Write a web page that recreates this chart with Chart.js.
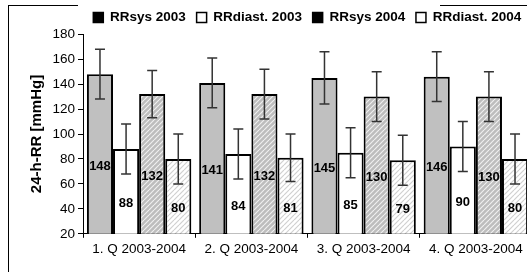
<!DOCTYPE html>
<html>
<head>
<meta charset="utf-8">
<script src="https://cdn.jsdelivr.net/npm/chart.js@4"></script>
<style>
  html, body { margin: 0; padding: 0; background: #fff; overflow: hidden; width: 527px; height: 272px; }
  #frame { position: absolute; left: 8px; top: 5px; width: 700px; height: 400px; border: 1px solid #000; }
  #gap { position: absolute; left: 78px; top: 4px; width: 362px; height: 4px; background: #fff; }
  #wrap { position: absolute; left: 9px; top: 0; width: 570px; height: 272px; }
</style>
</head>
<body>
<div id="frame"></div>
<div id="gap"></div>
<div id="wrap"><canvas id="grafico"></canvas></div>
<script>
// Dados
const quartale = ["1. Q 2003-2004", "2. Q 2003-2004", "3. Q 2003-2004", "4. Q 2003-2004"];
const rrSys2003 = [148, 141, 145, 146];
const rrDiast2003 = [88, 84, 85, 90];
const rrSys2004 = [132, 132, 130, 130];
const rrDiast2004 = [80, 81, 79, 80];
// Standardabweichung (Fehlerbalken)
const sdSys2003 = [20, 20, 21, 20];
const sdDiast2003 = [20, 20, 20, 20];
const sdSys2004 = [19, 20, 20, 20];
const sdDiast2004 = [20, 19, 20, 20];
const yTicks = [20, 40, 60, 80, 100, 120, 140, 160, 180];

const fonte = "Arial, 'Liberation Sans', sans-serif";
Chart.defaults.font.family = fonte;
Chart.defaults.color = "#000";

// Schraffur-Muster
function hatch(bg, fg, size, lw) {
  const c = document.createElement("canvas");
  c.width = size; c.height = size;
  const g = c.getContext("2d");
  g.fillStyle = bg;
  g.fillRect(0, 0, size, size);
  g.strokeStyle = fg;
  g.lineWidth = lw;
  for (let k = -1; k <= 1; k++) {
    g.beginPath();
    g.moveTo(k * size, size);
    g.lineTo(k * size + size, 0);
    g.stroke();
  }
  return g.createPattern(c, "repeat");
}

const ctx = document.getElementById("grafico").getContext("2d");

const fehler = [sdSys2003, sdDiast2003, sdSys2004, sdDiast2004];

// Fehlerbalken + Werte
const extras = {
  id: "extras",
  afterDatasetsDraw(chart) {
    const g = chart.ctx;
    const y = chart.scales.y;
    g.save();
    chart.data.datasets.forEach((ds, i) => {
      const meta = chart.getDatasetMeta(i);
      meta.data.forEach((bar, j) => {
        const v = ds.data[j];
        const sd = fehler[i][j];
        const yt = y.getPixelForValue(v + sd);
        const yb = y.getPixelForValue(v - sd);
        g.strokeStyle = "#333";
        g.lineWidth = 1.5;
        g.beginPath();
        g.moveTo(bar.x, yt); g.lineTo(bar.x, yb);
        g.moveTo(bar.x - 5, yt); g.lineTo(bar.x + 5, yt);
        g.moveTo(bar.x - 5, yb); g.lineTo(bar.x + 5, yb);
        g.stroke();
      });
    });
    g.font = "bold 13px " + fonte;
    g.fillStyle = "#000";
    g.textAlign = "center";
    g.textBaseline = "middle";
    chart.data.datasets.forEach((ds, i) => {
      const meta = chart.getDatasetMeta(i);
      meta.data.forEach((bar, j) => {
        g.fillText(ds.data[j], bar.x, (bar.y + bar.base) / 2);
      });
    });
    g.restore();
  }
};

new Chart(ctx, {
  type: "bar",
  data: {
    labels: quartale,
    datasets: [
      { label: "RRsys 2003", data: rrSys2003, backgroundColor: "#c0c0c0", borderColor: "#000", borderWidth: 2 },
      { label: "RRdiast. 2003", data: rrDiast2003, backgroundColor: "#fff", borderColor: "#000", borderWidth: 2 },
      { label: "RRsys 2004", data: rrSys2004, backgroundColor: hatch("#bdbdbd", "#f0f0f0", 5, 1.2), borderColor: "#000", borderWidth: 2 },
      { label: "RRdiast. 2004", data: rrDiast2004, backgroundColor: hatch("#fff", "#d0d0d0", 5, 1.2), borderColor: "#000", borderWidth: 2 }
    ]
  },
  options: {
    responsive: true,
    maintainAspectRatio: false,
    animation: false,
    layout: { padding: { top: 0, right: 47, bottom: 12, left: 0 } },
    datasets: { bar: { categoryPercentage: 0.93, barPercentage: 1.0 } },
    plugins: {
      tooltip: { enabled: false },
      legend: {
        position: "top",
        align: "end",
        labels: {
          font: { size: 13.5, weight: "bold" },
          boxWidth: 10,
          boxHeight: 10,
          padding: 10.75,
          generateLabels(chart) {
            return chart.data.datasets.map((ds, i) => ({
              text: ds.label,
              fillStyle: i % 2 === 0 ? "#000" : "#fff",
              strokeStyle: "#000",
              lineWidth: 1.5,
              datasetIndex: i,
              hidden: false
            }));
          }
        }
      }
    },
    scales: {
      x: {
        grid: { display: true, drawOnChartArea: false, drawTicks: true, tickLength: 4, color: "#000" },
        border: { color: "#000", width: 1 },
        ticks: { font: { size: 13.5 }, padding: 3, maxRotation: 0 }
      },
      y: {
        min: 20,
        max: 180,
        afterBuildTicks(s) { s.ticks = yTicks.map(v => ({ value: v })); },
        afterFit(s) { s.width = 74; },
        grid: { display: true, drawOnChartArea: false, drawTicks: true, tickLength: 5, color: "#000" },
        border: { color: "#000", width: 1 },
        ticks: { font: { size: 13.5 }, padding: 3 },
        title: { display: true, text: "24-h-RR [mmHg]", font: { size: 15, weight: "bold" }, padding: { top: 19, bottom: 0 } }
      }
    }
  },
  plugins: [extras]
});
</script>
</body>
</html>
